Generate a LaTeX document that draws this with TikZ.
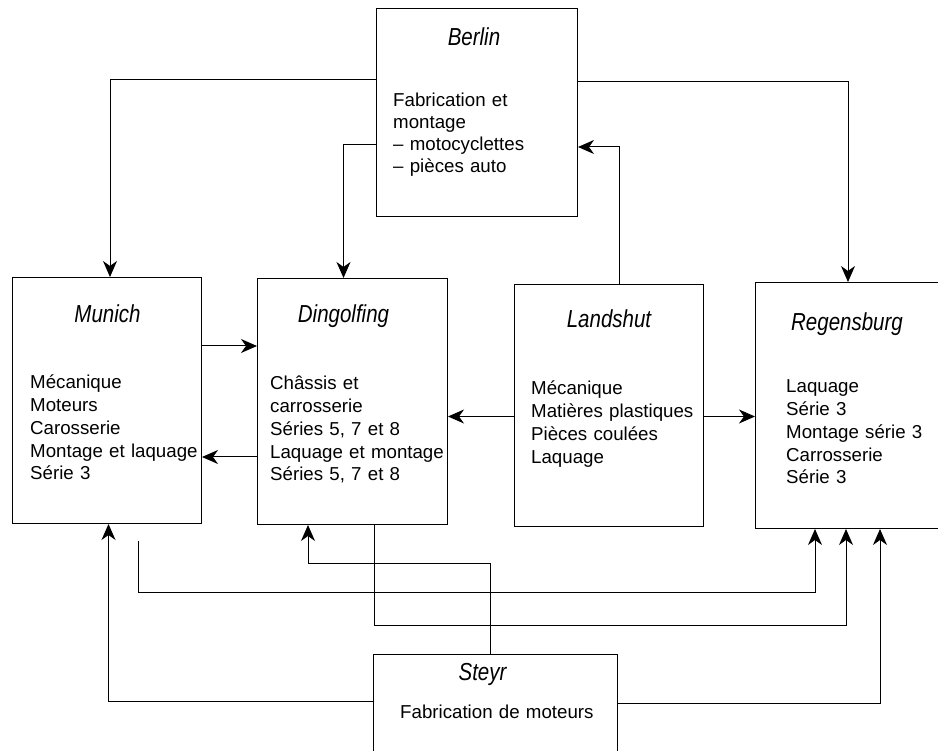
\documentclass[tikz,border=0pt]{standalone}
\usepackage{fontspec}
\setmainfont{Liberation Sans}
\usetikzlibrary{positioning,arrows.meta,calc}
\newcommand{\taille}{\fontsize{18.7}{22.7}\selectfont}
\newcommand{\nom}[1]{\scalebox{1}[1.2]{#1}}
\tikzset{
  usine/.style={draw, line width=1pt, anchor=north west, inner sep=0pt},
  ville/.style={anchor=base, inner sep=0pt, font=\fontsize{20.5}{24}\selectfont\itshape},
  activite/.style={anchor=base west, inner sep=0pt, text width=200pt, align=left, font=\taille},
  flux/.style={line width=1pt, -{Stealth[length=16pt,width=14pt,inset=5pt]}},
}

\begin{document}
\begin{tikzpicture}[x=1pt, y=-1pt]
\useasboundingbox (0,0) rectangle (938,751);
% usines
\node[usine, minimum width=201pt, minimum height=208pt] (berlin) at (376,8) {};
\node[usine, minimum width=189pt, minimum height=246pt] (munich) at (12,277) {};
\node[usine, minimum width=190pt, minimum height=246pt] (dingolfing) at (257,278) {};
\node[usine, minimum width=189pt, minimum height=242pt] (landshut) at (514,284) {};
\node[usine, minimum width=200pt, minimum height=246pt] (regensburg) at (755,282) {};
\node[usine, minimum width=244pt, minimum height=120pt] (steyr) at (373,654) {};

% noms et activites
\node[ville] (tberlin) at ($(berlin.north)+(-3,38)$) {\nom{Berlin}};
\node[activite, font=\fontsize{18.7}{21.8}\selectfont] (aberlin) at ($(berlin.north west)+(17,99)$)
  {Fabrication et\\montage\\-- motocyclettes\\-- pièces auto};
\node[ville] (tmunich) at ($(munich.north)+(0.5,46)$) {\nom{Munich}};
\node[activite] (amunich) at ($(munich.north west)+(18,112)$)
  {Mécanique\\Moteurs\\Carosserie\\Montage et laquage\\Série 3};
\node[ville] (tdingolfing) at ($(dingolfing.north)+(-9,45)$) {\nom{Dingolfing}};
\node[activite] (adingolfing) at ($(dingolfing.north west)+(13,112)$)
  {Châssis et\\carrosserie\\Séries 5, 7 et 8\\Laquage et montage\\Séries 5, 7 et 8};
\node[ville] (tlandshut) at ($(landshut.north)+(0,44)$) {\nom{Landshut}};
\node[activite] (alandshut) at ($(landshut.north west)+(17,111)$)
  {Mécanique\\Matières plastiques\\Pièces coulées\\Laquage};
\node[ville] (tregensburg) at ($(regensburg.north west)+(92,49)$) {\nom{Regensburg}};
\node[activite] (aregensburg) at ($(regensburg.north west)+(31,111)$)
  {Laquage\\Série 3\\Montage série 3\\Carrosserie\\Série 3};
\node[ville] (tsteyr) at ($(steyr.north west)+(109.5,26)$) {\nom{Steyr}};
\node[activite] (asteyr) at ($(steyr.north west)+(27,64)$) {Fabrication de moteurs};

% flux depuis Berlin
\draw[flux] ($(berlin.north west)+(0,72)$) -| ($(munich.north)+(3,0)$);
\draw[flux] ($(berlin.north west)+(0,137)$) -| ($(dingolfing.north)+(-9,0)$);
\draw[flux] ($(berlin.north east)+(0,74)$) -| ($(regensburg.north west)+(93,0)$);
\draw[flux] ($(landshut.north)+(10,0)$) |- ($(berlin.north east)+(0,139)$);

% flux entre usines
\coordinate (md) at ($(munich.north east)+(0,69)$);
\draw[flux] (md) -- (md -| dingolfing.west);
\coordinate (dm) at ($(dingolfing.north west)+(0,179)$);
\draw[flux] (dm) -- (dm -| munich.east);
\coordinate (ld) at ($(landshut.west)+(0,11)$);
\draw[flux] (ld) -- (ld -| dingolfing.east);
\coordinate (lr) at ($(landshut.east)+(0,11)$);
\draw[flux] (lr) -- (lr -| regensburg.west);

% flux du bas
\draw[flux] ($(steyr.north west)+(0,47)$) -| ($(munich.south)+(1.5,0)$);
\coordinate (m0) at (138,541);
\draw[flux] (m0) -- ++(0,51) -| ($(regensburg.south west)+(60,0)$);
\draw[flux] ($(dingolfing.south west)+(117,0)$) -- ++(0,100) -| ($(regensburg.south west)+(91,0)$);
\draw[flux] ($(steyr.north west)+(117,0)$) -- ++(0,-91) -| ($(dingolfing.south west)+(51,0)$);
\draw[flux] ($(steyr.north east)+(0,49)$) -| ($(regensburg.south west)+(125,0)$);
\end{tikzpicture}
\end{document}
